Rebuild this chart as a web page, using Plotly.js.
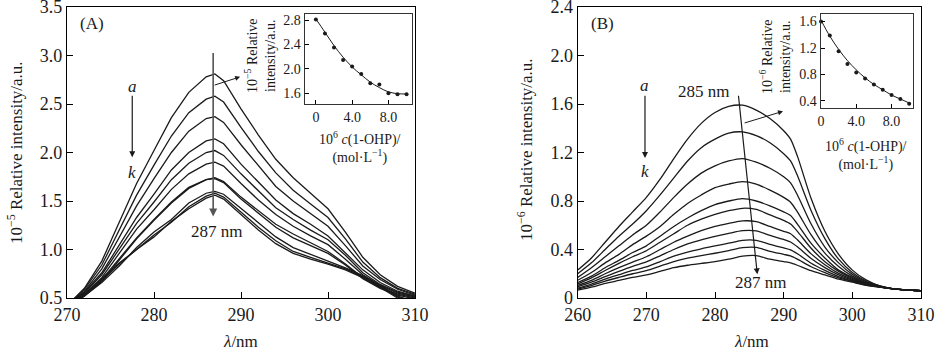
<!DOCTYPE html>
<html><head><meta charset="utf-8">
<script src="https://cdn.plot.ly/plotly-3.0.1.min.js"></script>
<style>html,body{margin:0;padding:0;background:#fff}#chart{width:943px;height:355px}</style>
</head><body><div id="chart"></div>
<script>
// ---------- Panel A: spectra (10^-5 relative intensity) ----------
const wlA = [270,272,274,276,278,280,282,284,286,287,288,290,292,294,296,298,300,302,304,306,308,310];
const A_a = [0.42,0.60,0.88,1.28,1.68,2.02,2.36,2.62,2.78,2.81,2.74,2.45,2.18,1.93,1.74,1.58,1.42,1.18,0.92,0.74,0.62,0.55];
const A_b = [0.42,0.59,0.84,1.20,1.56,1.87,2.17,2.41,2.55,2.58,2.52,2.26,2.01,1.79,1.61,1.47,1.33,1.11,0.87,0.71,0.60,0.54];
const A_c = [0.43,0.57,0.80,1.13,1.45,1.73,2.00,2.22,2.35,2.37,2.31,2.08,1.86,1.65,1.50,1.37,1.24,1.04,0.83,0.69,0.59,0.53];
const A_d = [0.43,0.56,0.76,1.04,1.33,1.57,1.82,2.00,2.12,2.14,2.09,1.88,1.69,1.51,1.37,1.26,1.14,0.97,0.79,0.66,0.57,0.52];
const A_e = [0.43,0.55,0.74,1.00,1.27,1.49,1.72,1.89,2.00,2.02,1.97,1.78,1.60,1.43,1.31,1.20,1.10,0.94,0.76,0.64,0.56,0.52];
const A_f = [0.43,0.54,0.71,0.96,1.21,1.41,1.62,1.78,1.88,1.90,1.86,1.68,1.51,1.36,1.24,1.14,1.05,0.90,0.74,0.63,0.55,0.51];
const A_g = [0.43,0.53,0.69,0.90,1.12,1.31,1.49,1.64,1.72,1.74,1.70,1.54,1.40,1.26,1.16,1.07,0.98,0.85,0.71,0.61,0.54,0.50];
const A_h = [0.42,0.52,0.67,0.89,1.11,1.30,1.48,1.63,1.72,1.73,1.69,1.52,1.37,1.23,1.12,1.04,0.96,0.84,0.70,0.60,0.53,0.49];
const A_i = [0.42,0.52,0.66,0.83,1.02,1.18,1.31,1.48,1.58,1.60,1.57,1.42,1.27,1.13,1.02,0.95,0.88,0.81,0.73,0.63,0.52,0.46];
const A_j = [0.41,0.52,0.68,0.85,1.00,1.15,1.28,1.44,1.55,1.58,1.54,1.38,1.23,1.09,0.98,0.92,0.86,0.80,0.72,0.62,0.51,0.45];
const A_k = [0.41,0.53,0.70,0.86,1.00,1.13,1.29,1.42,1.53,1.56,1.52,1.36,1.20,1.06,0.96,0.90,0.85,0.79,0.71,0.61,0.50,0.44];

// ---------- Panel A inset ----------
const concA = [0,1,2,3,4,5,6,7,8,9,10];
const insetA_pts = [2.81,2.58,2.35,2.145,2.035,1.915,1.76,1.74,1.595,1.58,1.58];
const insetA_fit = [2.82,2.60,2.38,2.19,2.03,1.90,1.78,1.69,1.62,1.59,1.585];

// ---------- Panel B: spectra (10^-6 relative intensity) ----------
const wlB = [260,262,264,266,268,270,272,274,276,278,280,282,284,286,288,290,291,292,294,296,298,300,302,304,306,308,310];
const B_a = [0.23,0.33,0.46,0.59,0.71,0.83,0.98,1.15,1.31,1.44,1.53,1.58,1.59,1.55,1.48,1.38,1.31,1.17,0.82,0.55,0.36,0.23,0.15,0.10,0.075,0.065,0.06];
const B_b = [0.20,0.29,0.40,0.51,0.61,0.72,0.85,0.99,1.13,1.24,1.31,1.36,1.37,1.34,1.28,1.19,1.13,1.01,0.72,0.49,0.32,0.21,0.14,0.10,0.075,0.066,0.06];
const B_c = [0.17,0.25,0.34,0.43,0.52,0.60,0.71,0.83,0.94,1.03,1.09,1.13,1.15,1.12,1.07,1.00,0.95,0.85,0.61,0.42,0.29,0.195,0.134,0.096,0.075,0.066,0.06];
const B_d = [0.146,0.21,0.29,0.36,0.44,0.51,0.59,0.69,0.78,0.85,0.91,0.94,0.96,0.94,0.89,0.83,0.79,0.71,0.52,0.37,0.26,0.18,0.127,0.095,0.075,0.066,0.06];
const B_e = [0.128,0.18,0.25,0.31,0.375,0.43,0.51,0.59,0.66,0.72,0.77,0.80,0.82,0.80,0.76,0.71,0.68,0.61,0.45,0.33,0.23,0.17,0.122,0.094,0.075,0.066,0.06];
const B_f = [0.117,0.166,0.227,0.285,0.34,0.39,0.46,0.53,0.60,0.65,0.69,0.72,0.74,0.73,0.685,0.64,0.61,0.55,0.41,0.30,0.22,0.162,0.119,0.093,0.075,0.066,0.06];
const B_g = [0.104,0.146,0.20,0.25,0.296,0.34,0.40,0.46,0.51,0.555,0.59,0.615,0.636,0.63,0.59,0.55,0.53,0.48,0.364,0.274,0.203,0.153,0.116,0.092,0.075,0.066,0.06];
const B_h = [0.093,0.131,0.177,0.22,0.261,0.298,0.348,0.40,0.446,0.48,0.508,0.533,0.555,0.553,0.516,0.483,0.462,0.422,0.326,0.251,0.19,0.147,0.113,0.092,0.075,0.066,0.06];
const B_i = [0.082,0.115,0.156,0.192,0.227,0.257,0.30,0.345,0.379,0.406,0.429,0.452,0.476,0.476,0.442,0.413,0.397,0.365,0.287,0.228,0.177,0.141,0.11,0.091,0.075,0.066,0.06];
const B_j = [0.074,0.103,0.139,0.17,0.20,0.226,0.263,0.30,0.328,0.35,0.369,0.391,0.415,0.417,0.385,0.36,0.347,0.32,0.258,0.21,0.166,0.136,0.107,0.09,0.075,0.066,0.06];
const B_k = [0.065,0.09,0.12,0.145,0.17,0.19,0.22,0.25,0.27,0.285,0.30,0.32,0.345,0.35,0.32,0.30,0.29,0.27,0.225,0.19,0.155,0.13,0.105,0.09,0.075,0.066,0.06];

// ---------- Panel B inset ----------
const concB = [0,1,2,3,4,5,6,7,8,9,10];
const insetB_pts = [1.60,1.39,1.15,0.96,0.83,0.74,0.65,0.57,0.49,0.43,0.36];
const insetB_fit = [1.62,1.38,1.18,1.01,0.87,0.75,0.65,0.57,0.49,0.43,0.37];

const serif = "'Liberation Serif', 'Times New Roman', serif";
const ink = '#1a1a1a';
const W = 943, H = 355;
const px = v => v / W, py = v => 1 - v / H;

const traces = [];
[A_a,A_b,A_c,A_d,A_e,A_f,A_g,A_h,A_i,A_j,A_k].forEach(s => traces.push({
  x: wlA, y: s, xaxis: 'x', yaxis: 'y', type: 'scatter', mode: 'lines',
  line: {color: ink, width: 1.3}, hoverinfo: 'skip'}));
[B_a,B_b,B_c,B_d,B_e,B_f,B_g,B_h,B_i,B_j,B_k].forEach(s => traces.push({
  x: wlB, y: s, xaxis: 'x2', yaxis: 'y2', type: 'scatter', mode: 'lines',
  line: {color: ink, width: 1.3, shape: 'spline', smoothing: 0.7}, hoverinfo: 'skip'}));
traces.push({x: concA, y: insetA_fit, xaxis: 'x3', yaxis: 'y3', mode: 'lines',
  line: {color: ink, width: 1, shape: 'spline'}});
traces.push({x: concA, y: insetA_pts, xaxis: 'x3', yaxis: 'y3', mode: 'markers',
  marker: {color: ink, size: 4}});
traces.push({x: concB, y: insetB_fit, xaxis: 'x4', yaxis: 'y4', mode: 'lines',
  line: {color: ink, width: 1, shape: 'spline'}});
traces.push({x: concB, y: insetB_pts, xaxis: 'x4', yaxis: 'y4', mode: 'markers',
  marker: {color: ink, size: 4}, cliponaxis: false});

const mainAxis = {showline: true, mirror: true, linecolor: '#000', linewidth: 1.2,
  ticks: 'inside', ticklen: 6, tickcolor: '#000', showgrid: false, zeroline: false,
  ticklabeloverflow: 'allow', tickfont: {family: serif, size: 18, color: ink}};
const insetAxis = {showline: true, mirror: true, linecolor: '#333', linewidth: 1.4,
  ticks: 'inside', ticklen: 4, tickcolor: '#000', showgrid: false, zeroline: false,
  ticklabeloverflow: 'allow', tickfont: {family: serif, size: 14, color: ink}};

function txt(xp, yp, text, size, extra) {
  return Object.assign({xref: 'paper', yref: 'paper', x: px(xp), y: py(yp), text: text,
    xanchor: 'center', yanchor: 'middle', showarrow: false,
    font: {family: serif, size: size, color: ink}}, extra || {});
}
function dtxt(xr, yr, x, y, text, size) {
  return {xref: xr, yref: yr, x: x, y: y, text: text, xanchor: 'center', yanchor: 'middle',
    showarrow: false, font: {family: serif, size: size, color: ink}};
}
function arr(xr, yr, x0, y0, x1, y1, w, c) {
  return {xref: xr, yref: yr, axref: xr, ayref: yr, x: x1, y: y1, ax: x0, ay: y0, text: '',
    showarrow: true, arrowhead: 2, arrowsize: 1, arrowwidth: w, arrowcolor: c};
}

const layout = {
  width: W, height: H, margin: {l: 0, r: 0, t: 0, b: 0},
  paper_bgcolor: '#fff', plot_bgcolor: 'rgba(0,0,0,0)', showlegend: false,
  xaxis: Object.assign({}, mainAxis, {domain: [px(67), px(415)], range: [270, 310],
    tickvals: [270,280,290,300,310], anchor: 'y'}),
  yaxis: Object.assign({}, mainAxis, {domain: [py(298), py(7)], range: [0.5, 3.5],
    tickvals: [0.5,1.0,1.5,2.0,2.5,3.0,3.5], tickformat: '.1f', anchor: 'x'}),
  xaxis2: Object.assign({}, mainAxis, {domain: [px(577.7), px(921)], range: [260, 310],
    tickvals: [260,270,280,290,300,310], anchor: 'y2'}),
  yaxis2: Object.assign({}, mainAxis, {domain: [py(298), py(7)], range: [0, 2.4],
    tickvals: [0,0.4,0.8,1.2,1.6,2.0,2.4], ticktext: ['0','0.4','0.8','1.2','1.6','2.0','2.4'], anchor: 'x2'}),
  xaxis3: Object.assign({}, insetAxis, {domain: [px(305), px(412)], range: [-1.2, 10.6],
    tickvals: [0,4,8], ticktext: ['0','4.0','8.0'], anchor: 'y3'}),
  yaxis3: Object.assign({}, insetAxis, {domain: [py(104), py(14)], range: [1.42, 2.9],
    tickvals: [1.6,2.0,2.4,2.8], ticktext: ['1.6','2.0','2.4','2.8'], anchor: 'x3'}),
  xaxis4: Object.assign({}, insetAxis, {domain: [px(821), px(912.7)], range: [0, 10.4],
    tickvals: [0,4,8], ticktext: ['0','4.0','8.0'], anchor: 'y4'}),
  yaxis4: Object.assign({}, insetAxis, {domain: [py(108), py(14.3)], range: [0.294, 1.71],
    tickvals: [0.4,0.8,1.2,1.6], ticktext: ['0.4','0.8','1.2','1.6'], anchor: 'x4'}),
  annotations: [
    txt(15, 153, '10<sup>−5</sup> Relative intensity/a.u.', 17, {textangle: -90}),
    txt(525, 150, '10<sup>−6</sup> Relative intensity/a.u.', 17, {textangle: -90}),
    txt(241, 341, '<i>λ</i>/nm', 17),
    txt(751, 341, '<i>λ</i>/nm', 17),
    txt(260, 56, '10<sup>−5</sup> Relative<br>intensity/a.u.', 14, {textangle: -90}),
    txt(360, 147, '10<sup>6</sup> <i>c</i>(1-OHP)/<br>(mol·L<sup>−1</sup>)', 14),
    txt(775, 57, '10<sup>−6</sup> Relative<br>intensity/a.u.', 14, {textangle: -90}),
    txt(866, 154, '10<sup>6</sup> <i>c</i>(1-OHP)/<br>(mol·L<sup>−1</sup>)', 14),
    txt(92, 23, '(A)', 17),
    txt(602, 23, '(B)', 17),
    // panel A marks
    arr('x', 'y', 286.8, 3.04, 286.8, 1.34, 1.6, '#555'),
    dtxt('x', 'y', 287.2, 1.19, '287 nm', 17),
    arr('x', 'y', 277.5, 2.6, 277.5, 1.95, 1.2, ink),
    dtxt('x', 'y', 277.5, 2.68, '<i>a</i>', 17),
    dtxt('x', 'y', 277.5, 1.79, '<i>k</i>', 17),
    arr('x', 'y', 286.8, 2.69, 289.9, 2.78, 1, ink),
    // panel B marks
    arr('x2', 'y2', 283.39, 1.68, 286.16, 0.195, 1.2, ink),
    dtxt('x2', 'y2', 278.3, 1.70, '285 nm', 17),
    dtxt('x2', 'y2', 286.6, 0.125, '287 nm', 17),
    arr('x2', 'y2', 269.8, 1.68, 269.8, 1.155, 1.2, ink),
    dtxt('x2', 'y2', 269.8, 1.75, '<i>a</i>', 17),
    dtxt('x2', 'y2', 269.8, 1.04, '<i>k</i>', 17),
    arr('x2', 'y2', 284.1, 1.44, 289.9, 1.54, 1, ink)
  ]
};
Plotly.newPlot('chart', traces, layout, {staticPlot: true, displayModeBar: false});
</script></body></html>
